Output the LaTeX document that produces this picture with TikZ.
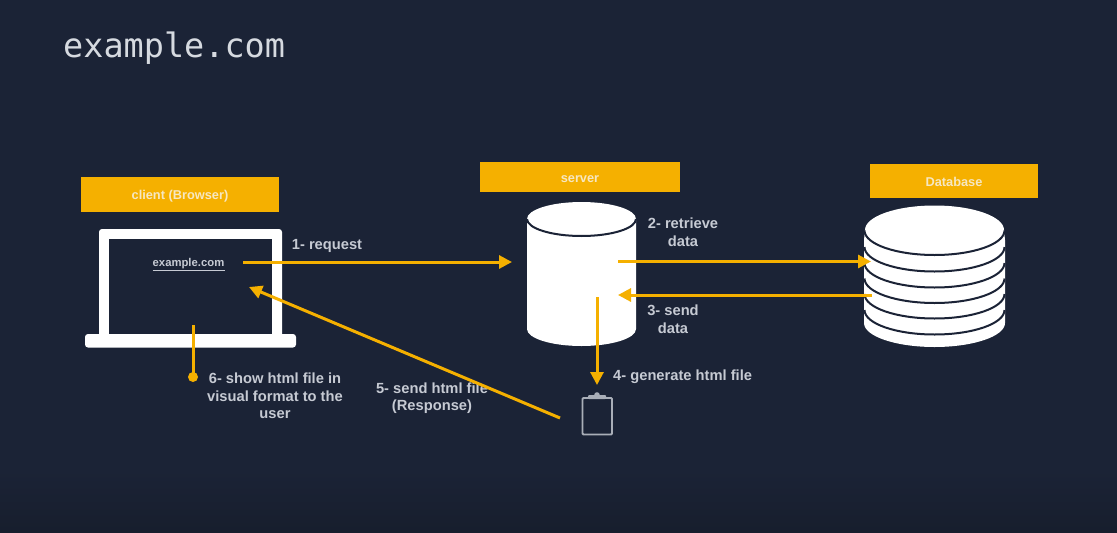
\documentclass[tikz,border=0pt]{standalone}
\usepackage{fontspec}
\setmainfont{Liberation Sans}
\newfontfamily\titlefont{DejaVu Sans Mono}
\usetikzlibrary{arrows.meta,shadings}
\definecolor{bgc}{HTML}{1B2336}
\definecolor{bgd}{HTML}{171E2D}
\definecolor{amberc}{HTML}{F5B000}
\definecolor{labelc}{HTML}{C6CAD3}
\definecolor{titlec}{HTML}{D6DAE0}
\definecolor{clipc}{HTML}{A9AEB8}
\definecolor{barTextc}{HTML}{F6E7C2}
\tikzset{
  barbox/.style={fill=amberc,draw=none,inner sep=0pt,font=\bfseries\fontsize{12.8}{15}\selectfont,text=barTextc},
  steplabel/.style={font=\bfseries\fontsize{14.7}{17.6}\selectfont,text=labelc,align=center,inner sep=0pt},
  flow/.style={draw=amberc,line width=3pt,-{Triangle[length=13pt,width=13pt]}},
  flowplain/.style={draw=amberc,line width=3pt},
  solidwhite/.style={fill=white,draw=none},
  seam/.style={draw=bgc,line width=2pt},
}
\begin{document}
\begin{tikzpicture}[x=1pt,y=-1pt]
\useasboundingbox (0,0) rectangle (1117,533);
\fill[bgc] (0,0) rectangle (1117,470);
\shade[top color=bgc,bottom color=bgd] (0,470) rectangle (1117,533);

\node[anchor=west,inner sep=0pt,font=\titlefont\fontsize{33.5}{36}\selectfont,text=titlec] (title) at (63,48) {example.com};

% header bars
\fill[amberc] (81,177) rectangle (279,212);
\fill[amberc] (480,162) rectangle (680,192);
\fill[amberc] (870,164) rectangle (1038,198);
\node[barbox,fill=none] (clientbar) at (180,196) {client (Browser)};
\node[barbox,fill=none] (serverbar) at (580,179.5) {server};
\node[barbox,fill=none] (dbbar) at (954,181.5) {Database};

% laptop
\fill[solidwhite,rounded corners=3pt] (99,340) -- (99,229) -- (282,229) -- (282,340) -- cycle;
\fill[bgc] (109,239) rectangle (272,334);
\fill[solidwhite,rounded corners=3pt] (85,334) rectangle (296,347.5);
\node[inner sep=0pt,font=\bfseries\fontsize{11.3}{13}\selectfont,text=labelc] (site) at (188.5,263.5) {example.com};
\draw[labelc,line width=0.6pt] ([yshift=-1.2pt]site.south west) -- ([yshift=-1.2pt]site.south east);

% server cylinder
\fill[solidwhite] (527,219) -- (527,329) arc[start angle=180,end angle=360,x radius=54.5,y radius=-17] -- (636,219) arc[start angle=0,end angle=180,x radius=54.5,y radius=-17] -- cycle;
\draw[seam] (527,219) arc[start angle=180,end angle=360,x radius=54.5,y radius=-17];

% database
\fill[solidwhite] (864,240) -- (864,323) arc[start angle=180,end angle=360,x radius=70.5,y radius=-24] -- (1005,240) -- (1004,230) arc[start angle=0,end angle=180,x radius=69.5,y radius=-24.5] -- cycle;
\foreach \yy in {230.5,247,263,278.5,294,310}{
  \draw[seam] (864.5,\yy) arc[start angle=180,end angle=360,x radius=70,y radius=-24.5];
}

% clipboard
\draw[clipc,line width=1.9pt,rounded corners=1pt] (582.5,398) rectangle (612,434.5);
\fill[clipc,rounded corners=1pt] (588,395) rectangle (606,399);
\fill[clipc] (597,395) circle[radius=2.8];

% anchors of the connectors
\coordinate (a1s) at (243,262);
\coordinate (a1e) at (512,262);
\coordinate (a2s) at (618,261.5);
\coordinate (a2e) at (871,261.5);
\coordinate (a3s) at (872,295);
\coordinate (a3e) at (618,295);
\coordinate (a4s) at (597,297);
\coordinate (a4e) at (597,385);
\coordinate (a5s) at (560,418);
\coordinate (a5e) at (249,287);
\coordinate (a6s) at (193,325);
\coordinate (a6e) at (193,377);

% labels
\node[steplabel] (l1) at (327,245.5) {1- request};
\node[steplabel] (l2) at (683,232) {2- retrieve\\data};
\node[steplabel] (l3) at (673,319.5) {3- send\\data};
\node[steplabel,anchor=west] (l4) at (613,376.5) {4- generate html file};
\node[steplabel] (l5) at (432,398) {5- send html file\\(Response)};
\node[steplabel] (l6) at (275,396) {6- show html file in\\visual format to the\\user};

% connectors
\draw[flow] (a1s) -- (a1e);
\draw[flow] (a2s) -- (a2e);
\draw[flow] (a3s) -- (a3e);
\draw[flow] (a4s) -- (a4e);
\draw[flow] (a5s) -- (a5e);
\draw[flowplain] (a6s) -- (a6e);
\fill[amberc] (a6e) circle[radius=5];
\end{tikzpicture}
\end{document}
